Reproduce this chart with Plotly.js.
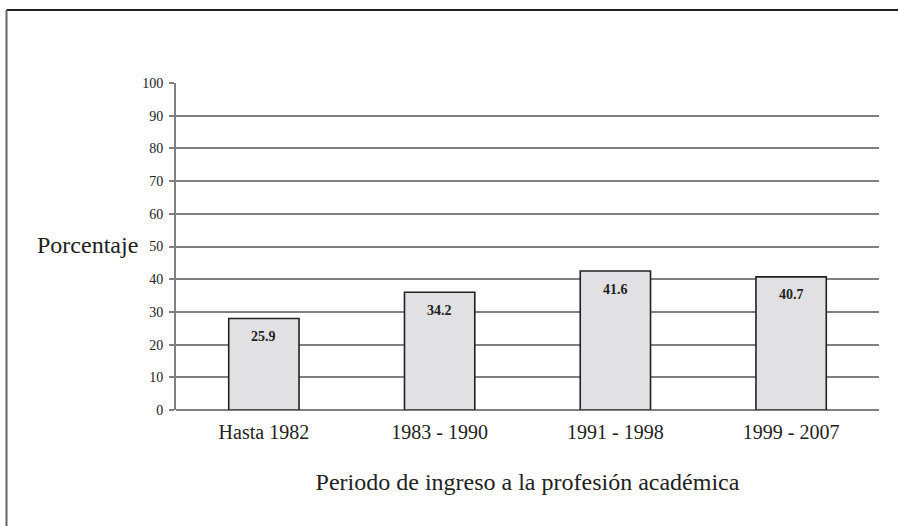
<!DOCTYPE html>
<html>
<head>
<meta charset="utf-8">
<script src="https://cdn.plot.ly/plotly-3.0.1.min.js"></script>
<style>
html,body{margin:0;padding:0;background:#fff;overflow:hidden;}
#chart{width:898px;height:526px;}
</style>
</head>
<body>
<div id="chart"></div>
<script>
// Data
const categories = ["Hasta 1982", "1983 - 1990", "1991 - 1998", "1999 - 2007"];
const barHeights = [28.0, 36.0, 42.5, 40.7];      // drawn bar heights
const labelTexts = ["25.9", "34.2", "41.6", "40.7"]; // printed labels
const yTickVals = [0, 10, 20, 30, 40, 50, 60, 70, 80, 90, 100];
const yAxisTitle = "Porcentaje";
const xAxisTitle = "Periodo de ingreso a la profesión académica";

const serif = "Liberation Serif";
const gridColor = "#808080";

const trace = {
  type: "bar",
  x: categories,
  y: barHeights,
  marker: {color: "#e1e1e3", line: {color: "#222222", width: 1.6}},
  hoverinfo: "none"
};

const annotations = categories.map((c, i) => ({
  x: c, y: barHeights[i], xref: "x", yref: "y",
  text: "<b>" + labelTexts[i] + "</b>",
  showarrow: false, yanchor: "middle", yshift: -18,
  font: {family: serif, size: 14, color: "#222"}
}));
annotations.push({
  text: yAxisTitle, xref: "paper", yref: "paper",
  x: -0.126, y: 0.505, showarrow: false,
  xanchor: "center", yanchor: "middle",
  font: {family: serif, size: 24, color: "#222"}
});

const layout = {
  width: 898, height: 526,
  margin: {l: 176, r: 19, t: 83, b: 116},
  paper_bgcolor: "#fff", plot_bgcolor: "#fff",
  showlegend: false,
  bargap: 0.6,
  font: {family: serif, color: "#222"},
  xaxis: {
    type: "category",
    showgrid: false, showline: false, zeroline: false,
    ticks: "",
    ticklabelstandoff: 8,
    tickfont: {family: serif, size: 20, color: "#222"},
    title: {text: xAxisTitle, font: {family: serif, size: 24, color: "#222"}, standoff: 31}
  },
  yaxis: {
    range: [0, 100], autorange: false,
    tickvals: yTickVals,
    showgrid: true, gridcolor: gridColor, gridwidth: 2,
    zeroline: true, zerolinecolor: gridColor, zerolinewidth: 2,
    showline: true, linecolor: gridColor, linewidth: 2,
    ticks: "outside", ticklen: 5, tickcolor: gridColor, tickwidth: 2,
    ticklabelstandoff: 3,
    tickfont: {family: serif, size: 14, color: "#222"}
  },
  annotations: annotations,
  shapes: [
    {type: "line", xref: "paper", yref: "paper",
     x0: -0.2411, x1: 1.03, y0: 1.2232, y1: 1.2232,
     line: {color: "#222", width: 2}},
    {type: "line", xref: "paper", yref: "paper",
     x0: -0.2411, x1: -0.2411, y0: 1.2232, y1: -0.6,
     line: {color: "#666", width: 2}}
  ]
};

Plotly.newPlot("chart", [trace], layout, {displayModeBar: false, staticPlot: true});
</script>
</body>
</html>
